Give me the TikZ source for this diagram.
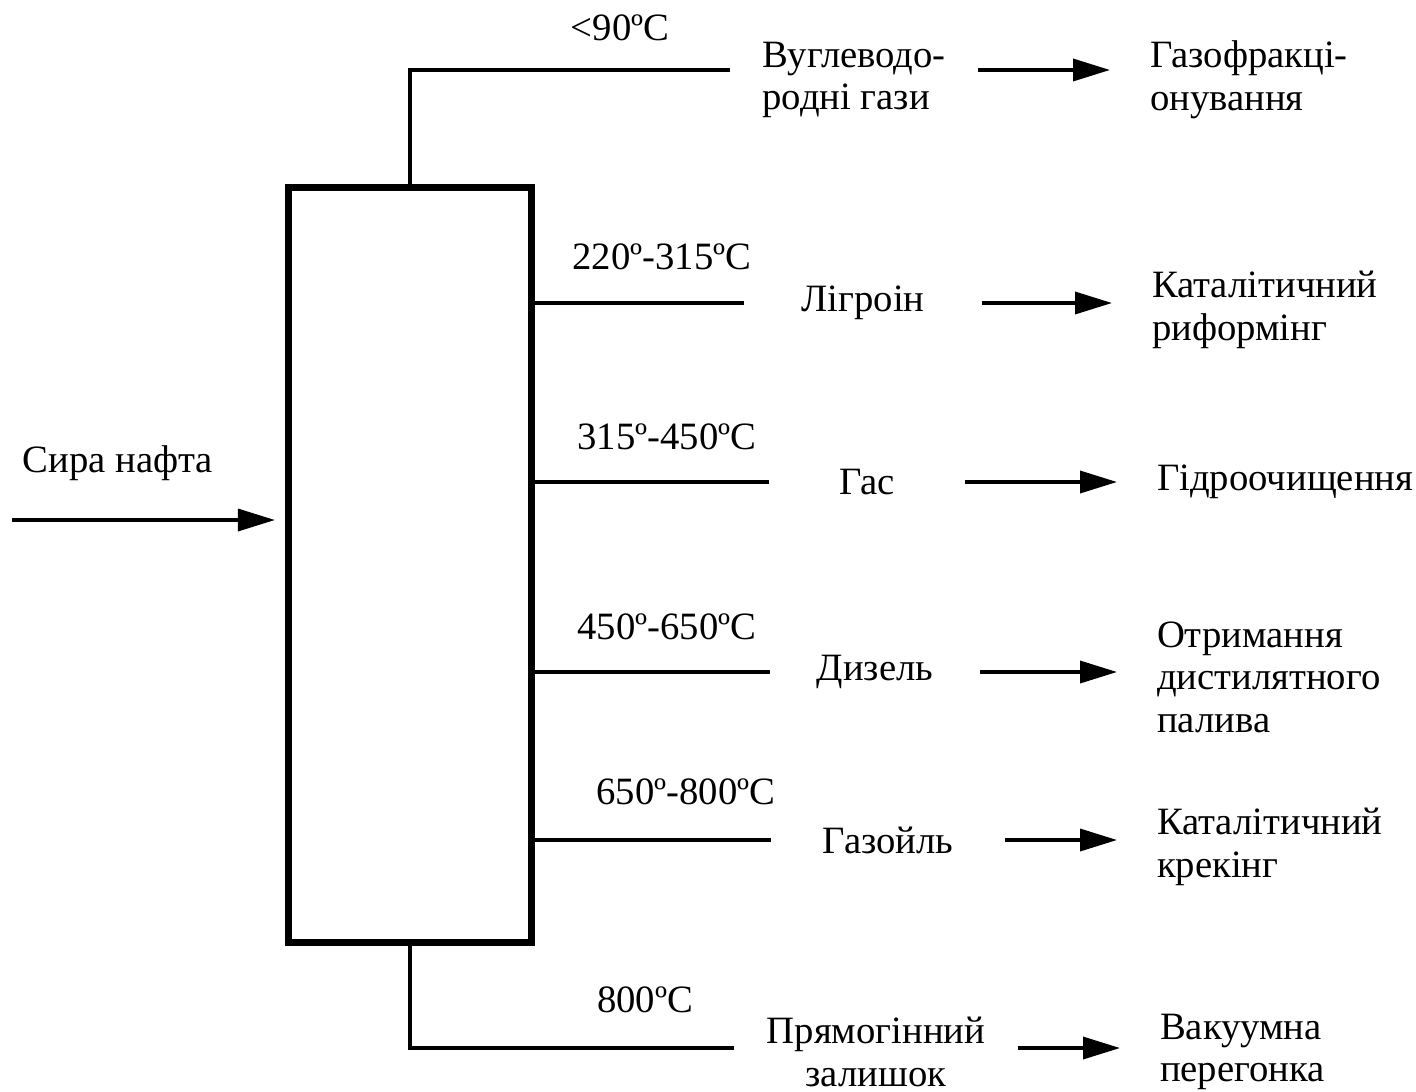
\documentclass[tikz,border=0pt]{standalone}
\usepackage{fontspec}
\setmainfont{Liberation Serif}
\usetikzlibrary{arrows.meta}
\begin{document}
\begin{tikzpicture}[x=0.01cm,y=-0.01cm,inner sep=0pt,outer sep=0pt,line width=1pt,
font=\fontsize{11}{12.1}\selectfont,
>={Triangle[length=0.37cm,width=0.22cm]},
column/.style={draw,rectangle,minimum width=2.42cm,minimum height=7.54cm,line width=2pt},
prod/.style={rectangle,align=center},
dest/.style={rectangle,align=left,anchor=west,inner xsep=0.4cm}]
\useasboundingbox (0,0) rectangle (1416,1091);
\draw (410,565) node[column] (col) {};
% products
\draw (854,80) node[prod,align=left,minimum width=2.48cm] (vug) {Вуглеводо-\\родні гази};
\draw (863,303) node[prod,minimum width=2.37cm] (lig) {Лігроін};
\draw (867,482) node[prod,minimum width=1.96cm] (gas) {Гас};
\draw (875,672) node[prod,minimum width=2.10cm] (diz) {Дизель};
\draw (888,840) node[prod,minimum width=2.33cm] (gzl) {Газойль};
\draw (876,1052) node[prod,minimum width=2.83cm] (zal) {Прямогінний\\залишок};
% processes
\draw (1110,80) node[dest] (gfr) {Газофракці-\\онування};
\draw (1112,310) node[dest] (rif) {Каталітичний\\риформінг};
\draw (1117,482) node[dest] (gid) {Гідроочищення};
\draw (1117,677) node[dest] (dst) {Отримання\\дистилятного\\палива};
\draw (1117,847) node[dest] (kre) {Каталітичний\\крекінг};
\draw (1120,1052) node[dest] (vak) {Вакуумна\\перегонка};
% temperatures
\draw (620,28) node (t1) {<90ºC};
\draw (662,257) node (t2) {220º-315ºC};
\draw (667,437) node (t3) {315º-450ºC};
\draw (667,627) node (t4) {450º-650ºC};
\draw (686,792) node (t5) {650º-800ºC};
\draw (645,1000) node (t6) {800ºC};
% feed
\draw (118,463) node (feed) {Сира нафта};
\coordinate (inlet) at (12,520);
\draw[->,shorten >=0.14cm] (inlet) -- (inlet -| col.west);
\draw (col.north) |- ([yshift=0.1cm]vug.west);
\draw (col.east |- lig.west) -- (lig.west);
\draw (col.east |- gas.west) -- (gas.west);
\draw (col.east |- diz.west) -- (diz.west);
\draw (col.east |- gzl.west) -- (gzl.west);
\draw (col.south) |- ([yshift=0.04cm]zal.west);
\draw[->] ([yshift=0.1cm]vug.east) -- ([yshift=0.1cm]vug.east -| gfr.west);
\draw[->] (lig.east) -- (lig.east -| rif.west);
\draw[->] (gas.east) -- (gid.west);
\draw[->] (diz.east) -- (diz.east -| dst.west);
\draw[->] (gzl.east) -- (gzl.east -| kre.west);
\draw[->] ([yshift=0.04cm]zal.east) -- ([yshift=0.04cm]zal.east -| vak.west);
\end{tikzpicture}
\end{document}
